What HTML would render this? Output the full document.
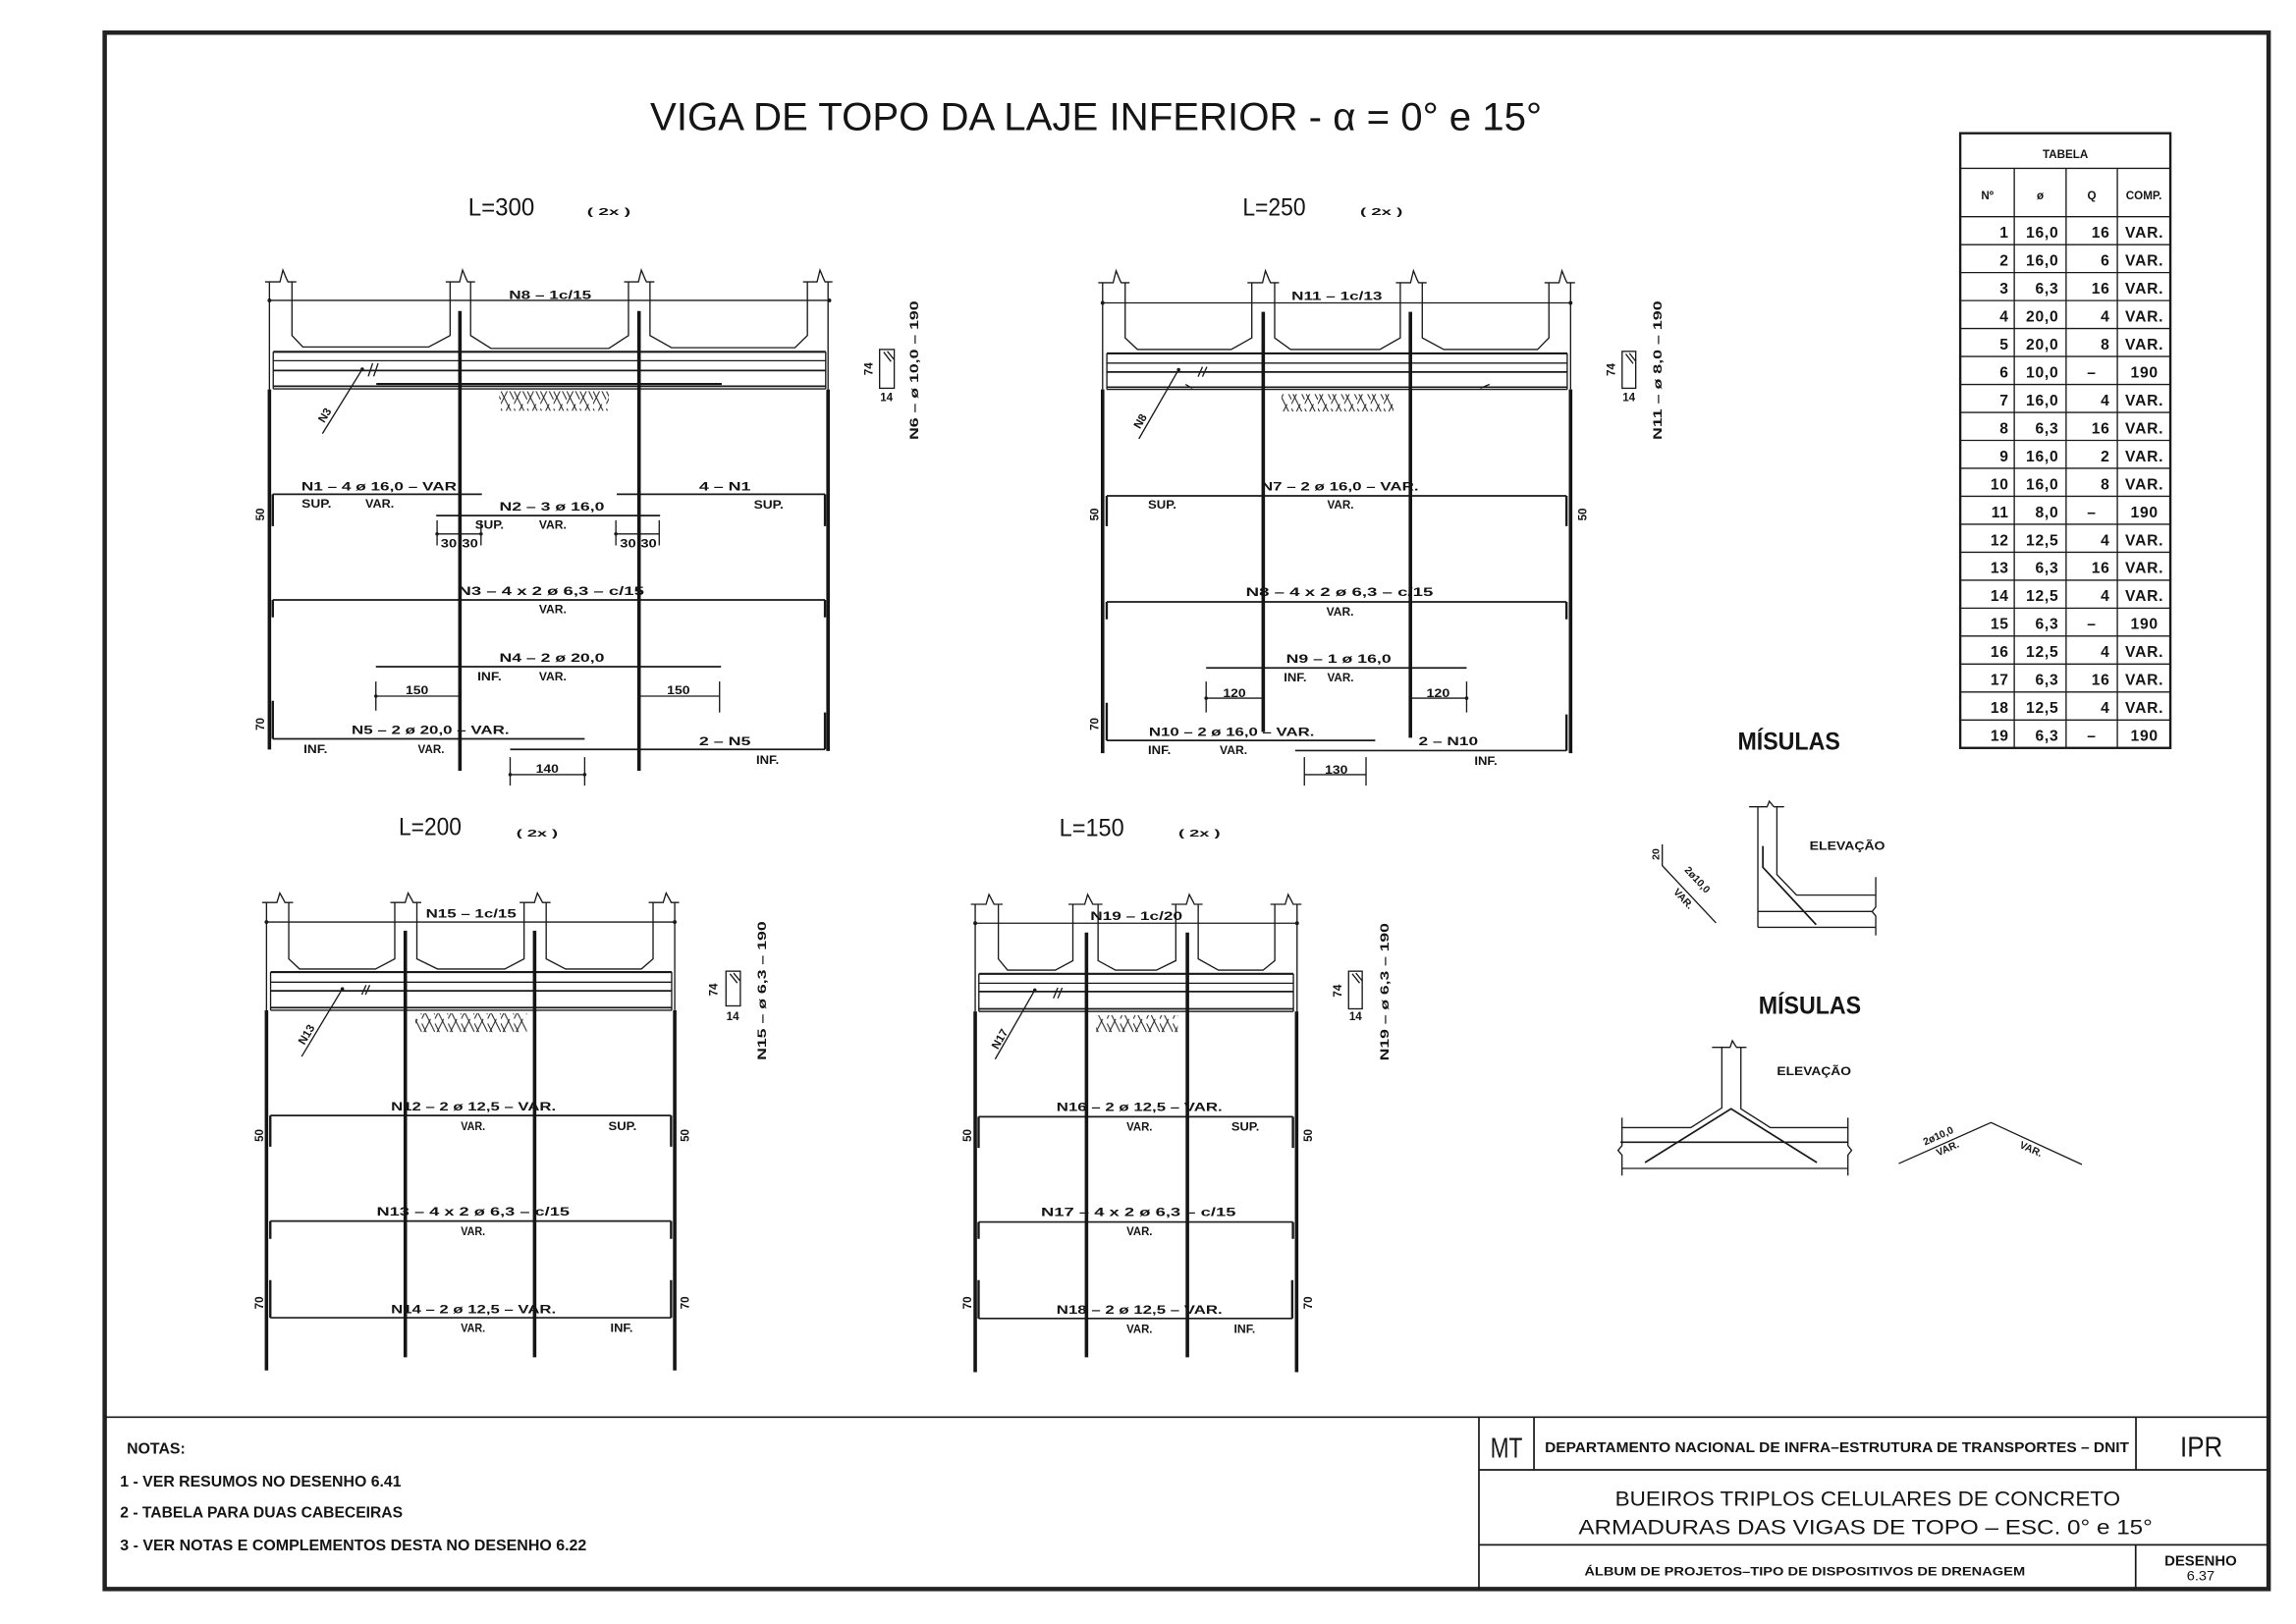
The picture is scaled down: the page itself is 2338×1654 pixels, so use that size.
<!DOCTYPE html>
<html><head><meta charset="utf-8"><style>
html,body{margin:0;padding:0;background:#fff;}
svg{display:block;}
.b{font-family:"Liberation Sans",sans-serif;font-weight:bold;font-size:7.8px;fill:#151515;}
.h{font-family:"Liberation Sans",sans-serif;font-size:16.5px;fill:#151515;}
.s{font-family:"Liberation Sans",sans-serif;font-weight:bold;font-size:7px;fill:#151515;}
.tb{font-family:"Liberation Sans",sans-serif;font-size:10.5px;font-weight:bold;letter-spacing:0.5px;fill:#151515;}
.th{font-family:"Liberation Sans",sans-serif;font-weight:bold;font-size:7.8px;fill:#151515;}
.n{font-family:"Liberation Sans",sans-serif;font-weight:bold;font-size:10.5px;fill:#151515;}
.r{font-family:"Liberation Sans",sans-serif;font-size:14px;fill:#151515;}
.L{fill:none;stroke:#1a1a1a;stroke-width:0.9;}
.M{fill:none;stroke:#1a1a1a;stroke-width:1.15;}
.K{fill:none;stroke:#151515;stroke-width:2.4;}
.H{fill:none;stroke:#1a1a1a;stroke-width:1.6;}
</style></head><body>
<svg width="2338" height="1654" viewBox="0 0 1568 1109.3" preserveAspectRatio="none" xmlns="http://www.w3.org/2000/svg">
<defs>
<pattern id="hp" patternUnits="userSpaceOnUse" width="9" height="12"><path d="M0,12 L6,0 M4.5,0 L9,9 M0,3 L4.5,12" stroke="#222" stroke-width="0.7" fill="none"/></pattern>
</defs>
<rect x="0" y="0" width="1568" height="1109.3" fill="#fff"/>

<!-- Border -->
<rect x="71.5" y="22.3" width="1477.8" height="1063.1" fill="none" stroke="#222" stroke-width="3"/>

<!-- Title -->
<text x="444" y="89" style="font-family:'Liberation Sans',sans-serif;font-size:27px;fill:#151515" textLength="609" lengthAdjust="spacingAndGlyphs">VIGA DE TOPO DA LAJE INFERIOR - α = 0° e 15°</text>

<!-- ================= DRAWING A (L=300) ================= -->
<text class="h" x="319.7" y="147.2" textLength="45.3" lengthAdjust="spacingAndGlyphs">L=300</text>
<text class="s" x="400.9" y="147" textLength="29.7" lengthAdjust="spacingAndGlyphs">( 2x )</text>
<g class="L">
<path d="M181,192.5 H191.2 L193.2,184.5 L195.7,190.5 L196.7,192.5 H202.4"/>
<path d="M304.4,192.5 H313.9 L315.9,184.5 L318.4,190.5 L319.4,192.5 H324.4"/>
<path d="M426.2,192.5 H436 L438,184.5 L440.5,190.5 L441.5,192.5 H446.9"/>
<path d="M548.4,192.5 H558 L560,184.5 L562.5,190.5 L563.5,192.5 H568.5"/>
<path d="M199.4,192.5 V229.2 L206.8,237 H292.8 L307.4,229.2 V192.5"/>
<path d="M321.4,192.5 V229.2 L335.3,238 H415.8 L429.2,229.2 V192.5"/>
<path d="M443.9,192.5 V229.2 L458.6,237.5 H542.9 L551.4,229.2 V192.5"/>
<path d="M184,192.5 V266 M565.5,192.5 V266"/>
<path d="M184,205.2 H566.4"/>
<path d="M186.6,246.4 H563.9 M186.6,265.6 H563.9 M186.6,240.3 V265.6 M563.9,240.3 V265.6"/>
<path d="M220.2,296.2 L247.4,252.2 M251.5,257.1 L254.5,248.2 M255.2,257.1 L258.2,248.2"/>
<path d="M298.5,364.7 H328.5 M298.5,355.4 V372.6 M328.5,355.4 V372.6 M420.6,364.7 H450.2 M420.6,355.4 V372.6 M450.2,355.4 V372.6"/>
<path d="M256.7,465.5 V485.4 M256.7,475.5 H314.1 M436.4,475.5 H491.4 M491.4,465.5 V486.7"/>
<path d="M348.4,517.2 V536.6 M399.3,517.2 V536.6 M348.4,529.1 H399.3"/>
<rect x="600.7" y="238.7" width="10" height="26.5"/>
<path d="M603.5,240.5 L608.5,247 M606,240 L610.5,245.5"/>
</g>
<g class="M">
<path d="M186.6,240.3 H563.9" stroke-width="1.4"/>
<path d="M186.6,253.1 H563.9 M186.6,263.8 H563.9"/>
<path d="M257,262.3 H492.9" stroke-width="1.4"/>
<path d="M297.9,352.2 H450.8 M256.7,455.4 H492.4"/>
<path d="M329.1,337.6 H186.3 M421.2,337.6 H563.4 M186.3,409.8 H563.4 M186.3,504.7 H399.3 M348.4,511.9 H563.4"/>
</g>
<g class="H">
<path d="M186.3,359.4 V337.6 M563.4,337.6 V359.4 M186.3,421.7 V409.8 M563.4,409.8 V421.7 M186.3,478.7 V504.7 M563.4,486.7 V511.9"/>
</g>
<g class="K">
<path d="M184,266 V512 M565.5,266 V513 M314.1,212.4 V526.5 M436.4,212.4 V526.5"/>
</g>
<rect x="340.9" y="267.2" width="74.9" height="13.4" fill="url(#hp)"/>
<g fill="#1a1a1a">
<circle cx="184" cy="205.2" r="1.3"/><circle cx="566.4" cy="205.2" r="1.3"/><circle cx="247.4" cy="252.2" r="1.2"/>
<circle cx="298.5" cy="364.7" r="1.2"/><circle cx="328.5" cy="364.7" r="1.2"/><circle cx="420.6" cy="364.7" r="1.2"/>
<circle cx="256.7" cy="475.5" r="1.2"/><circle cx="348.4" cy="529.1" r="1.2"/><circle cx="399.3" cy="529.1" r="1.2"/>
</g>
<text class="b" x="347.6" y="204.1" textLength="56.3" lengthAdjust="spacingAndGlyphs">N8 – 1c/15</text>
<text class="b" x="205.8" y="335" textLength="106.1" lengthAdjust="spacingAndGlyphs">N1 – 4 ø 16,0 – VAR</text>
<text class="b" x="206" y="346.6" textLength="20.3" lengthAdjust="spacingAndGlyphs">SUP.</text>
<text class="b" x="249.5" y="346.6" textLength="19.6" lengthAdjust="spacingAndGlyphs">VAR.</text>
<text class="b" x="477.4" y="335" textLength="35.3" lengthAdjust="spacingAndGlyphs">4 – N1</text>
<text class="b" x="514.8" y="347.4" textLength="20.3" lengthAdjust="spacingAndGlyphs">SUP.</text>
<text class="b" x="341" y="348.8" textLength="71.8" lengthAdjust="spacingAndGlyphs">N2 – 3 ø 16,0</text>
<text class="b" x="324.4" y="361.2" textLength="19.7" lengthAdjust="spacingAndGlyphs">SUP.</text>
<text class="b" x="368.1" y="361.2" textLength="18.8" lengthAdjust="spacingAndGlyphs">VAR.</text>
<text class="b" x="301" y="374" textLength="11" lengthAdjust="spacingAndGlyphs">30</text>
<text class="b" x="315.5" y="374" textLength="11" lengthAdjust="spacingAndGlyphs">30</text>
<text class="b" x="423.4" y="374" textLength="11" lengthAdjust="spacingAndGlyphs">30</text>
<text class="b" x="437.5" y="374" textLength="11" lengthAdjust="spacingAndGlyphs">30</text>
<text class="b" x="312.9" y="406.6" textLength="127" lengthAdjust="spacingAndGlyphs">N3 – 4 x 2 ø 6,3 – c/15</text>
<text class="b" x="368.1" y="419" textLength="18.8" lengthAdjust="spacingAndGlyphs">VAR.</text>
<text class="b" x="341" y="452.2" textLength="71.8" lengthAdjust="spacingAndGlyphs">N4 – 2 ø 20,0</text>
<text class="b" x="326" y="464.7" textLength="16.5" lengthAdjust="spacingAndGlyphs">INF.</text>
<text class="b" x="368.1" y="464.7" textLength="18.8" lengthAdjust="spacingAndGlyphs">VAR.</text>
<text class="b" x="277" y="474.2" textLength="15.6" lengthAdjust="spacingAndGlyphs">150</text>
<text class="b" x="455.5" y="474.2" textLength="15.7" lengthAdjust="spacingAndGlyphs">150</text>
<text class="b" x="240.1" y="501.3" textLength="107.7" lengthAdjust="spacingAndGlyphs">N5 – 2 ø 20,0 – VAR.</text>
<text class="b" x="207.3" y="514.5" textLength="16.3" lengthAdjust="spacingAndGlyphs">INF.</text>
<text class="b" x="285.4" y="514.5" textLength="18.1" lengthAdjust="spacingAndGlyphs">VAR.</text>
<text class="b" x="477.4" y="509.2" textLength="35.3" lengthAdjust="spacingAndGlyphs">2 – N5</text>
<text class="b" x="516.4" y="521.7" textLength="15.6" lengthAdjust="spacingAndGlyphs">INF.</text>
<text class="b" x="365.9" y="527.8" textLength="15.6" lengthAdjust="spacingAndGlyphs">140</text>
<text class="b" transform="translate(180.5,351.4) rotate(-90)" text-anchor="middle">50</text>
<text class="b" transform="translate(180.5,494.6) rotate(-90)" text-anchor="middle">70</text>
<text class="b" transform="translate(224,285) rotate(-58.5)" text-anchor="middle">N3</text>
<text class="b" transform="translate(596,252) rotate(-90)" text-anchor="middle">74</text>
<text class="b" x="605.4" y="274" text-anchor="middle">14</text>
<text class="b" transform="translate(627,253) rotate(-90)" text-anchor="middle" textLength="95" lengthAdjust="spacingAndGlyphs">N6 – ø 10,0 – 190</text>

<!-- ================= DRAWING B (L=250) ================= -->
<text class="h" x="848.6" y="147.2" textLength="43.1" lengthAdjust="spacingAndGlyphs">L=250</text>
<text class="s" x="928.9" y="147" textLength="29" lengthAdjust="spacingAndGlyphs">( 2x )</text>
<g class="L">
<path d="M750,193.1 H760.2 L762.2,185 L764.7,191.1 L765.7,193.1 H771.4"/>
<path d="M851.9,193.1 H862.2 L864.2,185 L866.7,191.1 L867.7,193.1 H873.5"/>
<path d="M953.3,193.1 H963.3 L965.3,185 L967.8,191.1 L968.8,193.1 H974.3"/>
<path d="M1054.8,193.1 H1064.7 L1066.7,185 L1069.2,191.1 L1070.2,193.1 H1075.6"/>
<path d="M768.4,193.1 V230.8 L776.8,238.7 H840.8 L854.9,230.8 V193.1"/>
<path d="M870.5,193.1 V230.8 L881.4,238.7 H942.3 L956.3,230.8 V193.1"/>
<path d="M971.3,193.1 V230.8 L986,238.7 H1050 L1057.8,230.8 V193.1"/>
<path d="M753,193.1 V266 M1072.6,193.1 V266"/>
<path d="M753,206.9 H1072.6"/>
<path d="M755.9,248 H1070.3 M755.9,266 H1070.3 M755.9,241.4 V266 M1070.3,241.4 V266"/>
<path d="M809.6,262.6 L814.3,265.2 M1011,265.2 L1017.2,262.6"/>
<path d="M777.8,299.7 L804.9,252.5 M818.2,257.3 L821.2,250.6 M821.2,257.3 L824.2,250.6"/>
<path d="M823.7,465.5 V486.7 M823.7,476.9 H862.7 M963.2,476.9 H1001.6 M1001.6,465.5 V486.7"/>
<path d="M890.8,517.2 V536.6 M932.9,517.2 V536.6 M890.8,529.1 H932.9"/>
<rect x="1107.8" y="240" width="9.3" height="25.2"/>
<path d="M1110.3,241.8 L1115.3,248.3 M1112.8,241.3 L1117.1,246.8"/>
</g>
<g class="M">
<path d="M755.9,241.4 H1070.3" stroke-width="1.4"/>
<path d="M755.9,254.1 H1070.3 M755.9,264.5 H1070.3"/>
<path d="M755.8,338.7 H1069.8 M755.8,411.1 H1069.8 M823.7,456.2 H1001.6 M755.8,505.8 H939.2 M884.5,512.7 H1069.8"/>
</g>
<g class="H">
<path d="M755.8,359.4 V338.7 M1069.8,338.7 V359.4 M755.8,423 V411.1 M1069.8,411.1 V423 M755.8,480 V505.8 M1069.8,488 V512.7"/>
</g>
<g class="K">
<path d="M753,266 V514.5 M1072.6,266 V514.5 M862.7,213 V500 M963.2,213 V503.9"/>
</g>
<rect x="875.2" y="269.2" width="76.5" height="11.9" fill="url(#hp)"/>
<g fill="#1a1a1a">
<circle cx="753" cy="206.9" r="1.3"/><circle cx="1072.6" cy="206.9" r="1.3"/><circle cx="804.9" cy="252.5" r="1.2"/>
<circle cx="823.7" cy="476.9" r="1.2"/><circle cx="1001.6" cy="476.9" r="1.2"/>
</g>
<text class="b" x="882" y="205" textLength="61.9" lengthAdjust="spacingAndGlyphs">N11 – 1c/13</text>
<text class="b" x="861.1" y="335" textLength="107.7" lengthAdjust="spacingAndGlyphs">N7 – 2 ø 16,0 – VAR.</text>
<text class="b" x="784" y="347.5" textLength="19.4" lengthAdjust="spacingAndGlyphs">SUP.</text>
<text class="b" x="906.4" y="347.5" textLength="18.1" lengthAdjust="spacingAndGlyphs">VAR.</text>
<text class="b" x="850.8" y="407.1" textLength="128" lengthAdjust="spacingAndGlyphs">N8 – 4 x 2 ø 6,3 – c/15</text>
<text class="b" x="905.8" y="420.4" textLength="18.7" lengthAdjust="spacingAndGlyphs">VAR.</text>
<text class="b" x="878.3" y="452.7" textLength="71.8" lengthAdjust="spacingAndGlyphs">N9 – 1 ø 16,0</text>
<text class="b" x="876.7" y="465.5" textLength="15.6" lengthAdjust="spacingAndGlyphs">INF.</text>
<text class="b" x="906.4" y="465.5" textLength="18.1" lengthAdjust="spacingAndGlyphs">VAR.</text>
<text class="b" x="835.2" y="476.1" textLength="15.6" lengthAdjust="spacingAndGlyphs">120</text>
<text class="b" x="974.1" y="476.1" textLength="16" lengthAdjust="spacingAndGlyphs">120</text>
<text class="b" x="784.6" y="502.6" textLength="113" lengthAdjust="spacingAndGlyphs">N10 – 2 ø 16,0 – VAR.</text>
<text class="b" x="784" y="515.1" textLength="15.6" lengthAdjust="spacingAndGlyphs">INF.</text>
<text class="b" x="833" y="515.1" textLength="18.8" lengthAdjust="spacingAndGlyphs">VAR.</text>
<text class="b" x="968.8" y="509.2" textLength="40.6" lengthAdjust="spacingAndGlyphs">2 – N10</text>
<text class="b" x="1006.9" y="522.5" textLength="15.6" lengthAdjust="spacingAndGlyphs">INF.</text>
<text class="b" x="904.8" y="528.6" textLength="15.6" lengthAdjust="spacingAndGlyphs">130</text>
<text class="b" transform="translate(750,351.4) rotate(-90)" text-anchor="middle">50</text>
<text class="b" transform="translate(1083.4,351.4) rotate(-90)" text-anchor="middle">50</text>
<text class="b" transform="translate(750,494.6) rotate(-90)" text-anchor="middle">70</text>
<text class="b" transform="translate(781,289) rotate(-60)" text-anchor="middle">N8</text>
<text class="b" transform="translate(1103,252.5) rotate(-90)" text-anchor="middle">74</text>
<text class="b" x="1112.4" y="274" text-anchor="middle">14</text>
<text class="b" transform="translate(1134.8,253) rotate(-90)" text-anchor="middle" textLength="95" lengthAdjust="spacingAndGlyphs">N11 – ø 8,0 – 190</text>

<!-- ================= DRAWING C (L=200) ================= -->
<text class="h" x="272.3" y="570.3" textLength="42.9" lengthAdjust="spacingAndGlyphs">L=200</text>
<text class="s" x="352.6" y="571.5" textLength="28.4" lengthAdjust="spacingAndGlyphs">( 2x )</text>
<g class="L">
<path d="M179,616.5 H189.1 L191.1,610 L193.6,614.5 L194.6,616.5 H200.2"/>
<path d="M266.6,616.5 H276.7 L278.7,610 L281.2,614.5 L282.2,616.5 H287.7"/>
<path d="M354.9,616.5 H365 L367,610 L369.5,614.5 L370.5,616.5 H376"/>
<path d="M443,616.5 H452.9 L454.9,610 L457.4,614.5 L458.4,616.5 H463.8"/>
<path d="M197.2,616.5 V655 L204.6,661.9 H256.4 L269.6,655 V616.5"/>
<path d="M284.7,616.5 V655 L298.8,661.9 H344.7 L357.9,655 V616.5"/>
<path d="M373,616.5 V655 L386.3,661.9 H438 L446,655 V616.5"/>
<path d="M182,616.5 V690.1 M460.8,616.5 V690.1"/>
<path d="M182,629.8 H460.8"/>
<path d="M184.8,670.9 H458.7 M184.8,690.1 H458.7 M184.8,664 V690.1 M458.7,664 V690.1"/>
<path d="M206,721.7 L233.8,675.5 M247.1,679.4 L250,672.9 M249.6,679.4 L252.5,672.9"/>
<rect x="495.8" y="663.4" width="9.8" height="23.7"/>
<path d="M498.5,665.2 L503.5,671.5 M501,664.7 L505.4,670"/>
</g>
<g class="M">
<path d="M184.8,664 H458.7" stroke-width="1.4"/>
<path d="M184.8,676.8 H458.7 M184.8,688.3 H458.7"/>
<path d="M184.6,762 H458.3 M184.6,834.1 H458.3 M184.6,900.1 H458.3"/>
</g>
<g class="H">
<path d="M184.6,783.3 V762 M458.3,762 V783.3 M184.6,846.2 V834.1 M458.3,834.1 V846.2 M184.6,874.4 V900.1 M458.3,874.4 V900.1"/>
</g>
<g class="K">
<path d="M182,690.1 V936.1 M460.8,690.1 V936.1 M276.8,635.7 V927.1 M365.1,635.7 V927.1"/>
</g>
<rect x="283.7" y="692.2" width="76.1" height="12.8" fill="url(#hp)"/>
<g fill="#1a1a1a">
<circle cx="182" cy="629.8" r="1.3"/><circle cx="460.8" cy="629.8" r="1.3"/><circle cx="233.8" cy="675.5" r="1.2"/>
</g>
<text class="b" x="290.8" y="626.7" textLength="61.8" lengthAdjust="spacingAndGlyphs">N15 – 1c/15</text>
<text class="b" x="267" y="758.4" textLength="112.7" lengthAdjust="spacingAndGlyphs">N12 – 2 ø 12,5 – VAR.</text>
<text class="b" x="314.7" y="771.8" textLength="16.7" lengthAdjust="spacingAndGlyphs">VAR.</text>
<text class="b" x="415.5" y="771.8" textLength="19.3" lengthAdjust="spacingAndGlyphs">SUP.</text>
<text class="b" x="257.2" y="830.3" textLength="131.8" lengthAdjust="spacingAndGlyphs">N13 – 4 x 2 ø 6,3 – c/15</text>
<text class="b" x="314.7" y="843.6" textLength="16.7" lengthAdjust="spacingAndGlyphs">VAR.</text>
<text class="b" x="267" y="897" textLength="112.7" lengthAdjust="spacingAndGlyphs">N14 – 2 ø 12,5 – VAR.</text>
<text class="b" x="314.7" y="909.9" textLength="16.7" lengthAdjust="spacingAndGlyphs">VAR.</text>
<text class="b" x="416.8" y="909.9" textLength="15.4" lengthAdjust="spacingAndGlyphs">INF.</text>
<text class="b" transform="translate(179.6,775.6) rotate(-90)" text-anchor="middle">50</text>
<text class="b" transform="translate(470.5,775.6) rotate(-90)" text-anchor="middle">50</text>
<text class="b" transform="translate(179.6,889.9) rotate(-90)" text-anchor="middle">70</text>
<text class="b" transform="translate(470.5,889.9) rotate(-90)" text-anchor="middle">70</text>
<text class="b" transform="translate(211.5,708) rotate(-59)" text-anchor="middle">N13</text>
<text class="b" transform="translate(490,676) rotate(-90)" text-anchor="middle">74</text>
<text class="b" x="500.4" y="697" text-anchor="middle">14</text>
<text class="b" transform="translate(523.2,676.8) rotate(-90)" text-anchor="middle" textLength="95" lengthAdjust="spacingAndGlyphs">N15 – ø 6,3 – 190</text>

<!-- ================= DRAWING D (L=150) ================= -->
<text class="h" x="723.4" y="571" textLength="44.3" lengthAdjust="spacingAndGlyphs">L=150</text>
<text class="s" x="804.8" y="571.5" textLength="28.6" lengthAdjust="spacingAndGlyphs">( 2x )</text>
<g class="L">
<path d="M663,617.7 H673.4 L675.4,611 L677.9,615.7 L678.9,617.7 H684.8"/>
<path d="M729.7,617.7 H740.8 L742.8,611 L745.3,615.7 L746.3,617.7 H752.9"/>
<path d="M800,617.7 H810.2 L812.2,611 L814.7,615.7 L815.7,617.7 H821.3"/>
<path d="M867.6,617.7 H877.7 L879.7,611 L882.2,615.7 L883.2,617.7 H888.8"/>
<path d="M681.8,617.7 V655 L688.1,662.7 H720.7 L732.7,656.2 V617.7"/>
<path d="M749.9,617.7 V656.2 L761.8,662.7 H789.7 L803,656.2 V617.7"/>
<path d="M818.3,617.7 V655 L832.1,662.7 H862.6 L870.6,656.2 V617.7"/>
<path d="M666,617.7 V690.9 M885.8,617.7 V690.9"/>
<path d="M666,630.6 H885.8"/>
<path d="M668.5,671.6 H883.3 M668.5,690.9 H883.3 M668.5,665.2 V690.9 M883.3,665.2 V690.9"/>
<path d="M679.6,723.5 L706.7,676.3 M719.4,681.9 L722.4,674.7 M722.4,681.9 L725.4,674.7"/>
<rect x="921" y="663.4" width="9.3" height="25.7"/>
<path d="M923.5,665.2 L928.5,671.5 M926,664.7 L930.3,670"/>
</g>
<g class="M">
<path d="M668.5,665.2 H883.3" stroke-width="1.4"/>
<path d="M668.5,677.3 H883.3 M668.5,689.1 H883.3"/>
<path d="M668.3,762.8 H883 M668.3,834.7 H883 M668.3,900.6 H882.5"/>
</g>
<g class="H">
<path d="M668.3,784.1 V762.8 M883,762.8 V784.1 M668.3,846.2 V834.7 M883,834.7 V846.2 M668.3,874.4 V900.6 M882.5,874.4 V900.6"/>
</g>
<g class="K">
<path d="M666,690.9 V937.3 M885.5,690.9 V937.3 M742,637 V927.1 M810.9,637 V927.1"/>
</g>
<rect x="748.6" y="693.5" width="55.7" height="11.5" fill="url(#hp)"/>
<g fill="#1a1a1a">
<circle cx="666" cy="630.6" r="1.3"/><circle cx="885.8" cy="630.6" r="1.3"/><circle cx="706.7" cy="676.3" r="1.2"/>
</g>
<text class="b" x="744.6" y="628.5" textLength="62.9" lengthAdjust="spacingAndGlyphs">N19 – 1c/20</text>
<text class="b" x="721.5" y="758.9" textLength="113.3" lengthAdjust="spacingAndGlyphs">N16 – 2 ø 12,5 – VAR.</text>
<text class="b" x="769.3" y="772.3" textLength="17.7" lengthAdjust="spacingAndGlyphs">VAR.</text>
<text class="b" x="840.9" y="772.3" textLength="19.1" lengthAdjust="spacingAndGlyphs">SUP.</text>
<text class="b" x="710.9" y="830.8" textLength="133.1" lengthAdjust="spacingAndGlyphs">N17 – 4 x 2 ø 6,3 – c/15</text>
<text class="b" x="769.3" y="843.6" textLength="17.7" lengthAdjust="spacingAndGlyphs">VAR.</text>
<text class="b" x="721.5" y="897.5" textLength="113.3" lengthAdjust="spacingAndGlyphs">N18 – 2 ø 12,5 – VAR.</text>
<text class="b" x="769.3" y="910.4" textLength="17.7" lengthAdjust="spacingAndGlyphs">VAR.</text>
<text class="b" x="842.7" y="910.4" textLength="14.6" lengthAdjust="spacingAndGlyphs">INF.</text>
<text class="b" transform="translate(663.3,775.6) rotate(-90)" text-anchor="middle">50</text>
<text class="b" transform="translate(895.9,775.6) rotate(-90)" text-anchor="middle">50</text>
<text class="b" transform="translate(663.3,889.9) rotate(-90)" text-anchor="middle">70</text>
<text class="b" transform="translate(895.9,889.9) rotate(-90)" text-anchor="middle">70</text>
<text class="b" transform="translate(685,711) rotate(-60)" text-anchor="middle">N17</text>
<text class="b" transform="translate(916,676.8) rotate(-90)" text-anchor="middle">74</text>
<text class="b" x="925.7" y="697" text-anchor="middle">14</text>
<text class="b" transform="translate(948.4,677.5) rotate(-90)" text-anchor="middle" textLength="94" lengthAdjust="spacingAndGlyphs">N19 – ø 6,3 – 190</text>

<!-- ================= TABLE ================= -->
<g class="L" stroke-width="1">
<rect x="1338.7" y="91" width="143.5" height="419.9" stroke-width="1.6"/>
<path d="M1338.7,115 H1482.2 M1338.7,148 H1482.2"/>
<path d="M1375.6,115 V510.9 M1411,115 V510.9 M1446,115 V510.9"/>
<path d="M1338.7,167.1 H1482.2 M1338.7,186.2 H1482.2 M1338.7,205.3 H1482.2 M1338.7,224.4 H1482.2 M1338.7,243.5 H1482.2 M1338.7,262.6 H1482.2 M1338.7,281.7 H1482.2 M1338.7,300.8 H1482.2 M1338.7,319.9 H1482.2 M1338.7,339 H1482.2 M1338.7,358.1 H1482.2 M1338.7,377.2 H1482.2 M1338.7,396.3 H1482.2 M1338.7,415.4 H1482.2 M1338.7,434.5 H1482.2 M1338.7,453.6 H1482.2 M1338.7,472.7 H1482.2 M1338.7,491.8 H1482.2"/>
</g>
<text class="th" x="1410.5" y="108" text-anchor="middle">TABELA</text>
<text class="th" x="1357.2" y="136" text-anchor="middle">Nº</text>
<text class="th" x="1393.3" y="136" text-anchor="middle">ø</text>
<text class="th" x="1428.5" y="136" text-anchor="middle">Q</text>
<text class="th" x="1464.1" y="136" text-anchor="middle" font-size="7">COMP.</text>
<g class="tb">
<text x="1372" y="162.3" text-anchor="end">1</text><text x="1406" y="162.3" text-anchor="end">16,0</text><text x="1441" y="162.3" text-anchor="end">16</text><text x="1464.5" y="162.3" text-anchor="middle">VAR.</text>
<text x="1372" y="181.4" text-anchor="end">2</text><text x="1406" y="181.4" text-anchor="end">16,0</text><text x="1441" y="181.4" text-anchor="end">6</text><text x="1464.5" y="181.4" text-anchor="middle">VAR.</text>
<text x="1372" y="200.5" text-anchor="end">3</text><text x="1406" y="200.5" text-anchor="end">6,3</text><text x="1441" y="200.5" text-anchor="end">16</text><text x="1464.5" y="200.5" text-anchor="middle">VAR.</text>
<text x="1372" y="219.6" text-anchor="end">4</text><text x="1406" y="219.6" text-anchor="end">20,0</text><text x="1441" y="219.6" text-anchor="end">4</text><text x="1464.5" y="219.6" text-anchor="middle">VAR.</text>
<text x="1372" y="238.7" text-anchor="end">5</text><text x="1406" y="238.7" text-anchor="end">20,0</text><text x="1441" y="238.7" text-anchor="end">8</text><text x="1464.5" y="238.7" text-anchor="middle">VAR.</text>
<text x="1372" y="257.8" text-anchor="end">6</text><text x="1406" y="257.8" text-anchor="end">10,0</text><text x="1428.5" y="257.8" text-anchor="middle">–</text><text x="1464.5" y="257.8" text-anchor="middle">190</text>
<text x="1372" y="276.9" text-anchor="end">7</text><text x="1406" y="276.9" text-anchor="end">16,0</text><text x="1441" y="276.9" text-anchor="end">4</text><text x="1464.5" y="276.9" text-anchor="middle">VAR.</text>
<text x="1372" y="296" text-anchor="end">8</text><text x="1406" y="296" text-anchor="end">6,3</text><text x="1441" y="296" text-anchor="end">16</text><text x="1464.5" y="296" text-anchor="middle">VAR.</text>
<text x="1372" y="315.1" text-anchor="end">9</text><text x="1406" y="315.1" text-anchor="end">16,0</text><text x="1441" y="315.1" text-anchor="end">2</text><text x="1464.5" y="315.1" text-anchor="middle">VAR.</text>
<text x="1372" y="334.2" text-anchor="end">10</text><text x="1406" y="334.2" text-anchor="end">16,0</text><text x="1441" y="334.2" text-anchor="end">8</text><text x="1464.5" y="334.2" text-anchor="middle">VAR.</text>
<text x="1372" y="353.3" text-anchor="end">11</text><text x="1406" y="353.3" text-anchor="end">8,0</text><text x="1428.5" y="353.3" text-anchor="middle">–</text><text x="1464.5" y="353.3" text-anchor="middle">190</text>
<text x="1372" y="372.4" text-anchor="end">12</text><text x="1406" y="372.4" text-anchor="end">12,5</text><text x="1441" y="372.4" text-anchor="end">4</text><text x="1464.5" y="372.4" text-anchor="middle">VAR.</text>
<text x="1372" y="391.5" text-anchor="end">13</text><text x="1406" y="391.5" text-anchor="end">6,3</text><text x="1441" y="391.5" text-anchor="end">16</text><text x="1464.5" y="391.5" text-anchor="middle">VAR.</text>
<text x="1372" y="410.6" text-anchor="end">14</text><text x="1406" y="410.6" text-anchor="end">12,5</text><text x="1441" y="410.6" text-anchor="end">4</text><text x="1464.5" y="410.6" text-anchor="middle">VAR.</text>
<text x="1372" y="429.7" text-anchor="end">15</text><text x="1406" y="429.7" text-anchor="end">6,3</text><text x="1428.5" y="429.7" text-anchor="middle">–</text><text x="1464.5" y="429.7" text-anchor="middle">190</text>
<text x="1372" y="448.8" text-anchor="end">16</text><text x="1406" y="448.8" text-anchor="end">12,5</text><text x="1441" y="448.8" text-anchor="end">4</text><text x="1464.5" y="448.8" text-anchor="middle">VAR.</text>
<text x="1372" y="467.9" text-anchor="end">17</text><text x="1406" y="467.9" text-anchor="end">6,3</text><text x="1441" y="467.9" text-anchor="end">16</text><text x="1464.5" y="467.9" text-anchor="middle">VAR.</text>
<text x="1372" y="487" text-anchor="end">18</text><text x="1406" y="487" text-anchor="end">12,5</text><text x="1441" y="487" text-anchor="end">4</text><text x="1464.5" y="487" text-anchor="middle">VAR.</text>
<text x="1372" y="506.1" text-anchor="end">19</text><text x="1406" y="506.1" text-anchor="end">6,3</text><text x="1428.5" y="506.1" text-anchor="middle">–</text><text x="1464.5" y="506.1" text-anchor="middle">190</text>
</g>

<!-- ================= MISULAS ================= -->
<text x="1186.7" y="512" style="font-family:'Liberation Sans',sans-serif;font-size:17px;font-weight:bold;fill:#151515" textLength="70" lengthAdjust="spacingAndGlyphs">MÍSULAS</text>
<g class="L" stroke-width="1">
<path d="M1194.5,551.1 H1206.8 L1208.3,547.3 L1210.5,550 L1211.5,551.1 H1218.4"/>
<path d="M1200.5,551.1 V633.4"/>
<path d="M1213.5,551.1 V597.4 L1226.9,611.4 H1281"/>
<path d="M1200.5,622.6 H1279"/>
<path d="M1200.5,633.4 H1281"/>
<path d="M1281,599.1 V619.5 L1278.5,622.6 L1281,625.7 V639"/>
<path d="M1135.2,576.8 V591.3 L1171.9,630.4"/>
</g>
<path d="M1203.9,577.9 V592.4 L1240.3,631.6" class="M" stroke-width="1.3"/>
<text class="b" x="1235.8" y="580.6" textLength="51.5" lengthAdjust="spacingAndGlyphs">ELEVAÇÃO</text>
<text class="s" transform="translate(1133,583.5) rotate(-90)" text-anchor="middle">20</text>
<text class="s" transform="translate(1157.5,602.5) rotate(47)" text-anchor="middle">2ø10,0</text>
<text class="s" transform="translate(1148,615.5) rotate(47)" text-anchor="middle">VAR.</text>

<text x="1201" y="692.4" style="font-family:'Liberation Sans',sans-serif;font-size:17px;font-weight:bold;fill:#151515" textLength="70" lengthAdjust="spacingAndGlyphs">MÍSULAS</text>
<g class="L" stroke-width="1">
<path d="M1169.2,715.4 H1181.5 L1183.1,710.9 L1185,714 L1186,715.4 H1192.7"/>
<path d="M1175.9,715.4 V756.8 L1154.7,770.2 H1107.7"/>
<path d="M1188.9,715.4 V757.4 L1209,770.2 H1262"/>
<path d="M1107.7,798.1 H1262"/>
<path d="M1107.7,763.5 V782.5 L1105,785.8 L1107.7,789 V803"/>
<path d="M1262,763.5 V782.5 L1264.5,785.8 L1262,789 V803"/>
<path d="M1296.7,794.8 L1359.7,766.8 L1421.8,795.4"/>
</g>
<path d="M1106.6,780.2 H1262" class="M" stroke-width="1.5"/>
<path d="M1123.4,794.1 L1182.2,757.4 L1240.8,794.1" class="M" stroke-width="1.3"/>
<text class="b" x="1213.5" y="734.4" textLength="50.7" lengthAdjust="spacingAndGlyphs">ELEVAÇÃO</text>
<text class="s" transform="translate(1324.6,778) rotate(-24)" text-anchor="middle">2ø10,0</text>
<text class="s" transform="translate(1331,786.5) rotate(-24)" text-anchor="middle">VAR.</text>
<text class="s" transform="translate(1386.1,787) rotate(24)" text-anchor="middle">VAR.</text>

<!-- ================= NOTES & TITLE BLOCK ================= -->
<g class="M" stroke-width="1.3">
<path d="M71.5,968 H1549.3"/>
<path d="M1010,968 V1085.4"/>
<path d="M1047.6,968 V1004 M1458.7,968 V1004"/>
<path d="M1010,1004 H1549.3 M1010,1055.2 H1549.3"/>
<path d="M1458.5,1055.2 V1085.4"/>
</g>
<text class="n" x="86.6" y="993" textLength="40" lengthAdjust="spacingAndGlyphs">NOTAS:</text>
<text class="n" x="82" y="1015.4" textLength="192" lengthAdjust="spacingAndGlyphs">1 - VER RESUMOS NO DESENHO 6.41</text>
<text class="n" x="82" y="1036.7" textLength="193" lengthAdjust="spacingAndGlyphs">2 - TABELA PARA DUAS CABECEIRAS</text>
<text class="n" x="82" y="1059" textLength="318.6" lengthAdjust="spacingAndGlyphs">3 - VER NOTAS E COMPLEMENTOS DESTA NO DESENHO 6.22</text>

<text x="1028.8" y="995.5" text-anchor="middle" style="font-family:'Liberation Sans',sans-serif;font-size:19px;fill:#151515" textLength="22" lengthAdjust="spacingAndGlyphs">MT</text>
<text x="1055" y="992" style="font-family:'Liberation Sans',sans-serif;font-weight:bold;font-size:10px;fill:#151515" textLength="399" lengthAdjust="spacingAndGlyphs">DEPARTAMENTO NACIONAL DE INFRA–ESTRUTURA DE TRANSPORTES – DNIT</text>
<text x="1488.9" y="995" style="font-family:'Liberation Sans',sans-serif;font-size:19px;fill:#151515" textLength="29" lengthAdjust="spacingAndGlyphs">IPR</text>
<text class="r" x="1103" y="1028.4" textLength="345" lengthAdjust="spacingAndGlyphs">BUEIROS TRIPLOS CELULARES DE CONCRETO</text>
<text class="r" x="1078" y="1047.8" textLength="392" lengthAdjust="spacingAndGlyphs">ARMADURAS DAS VIGAS DE TOPO – ESC. 0° e 15°</text>
<text x="1082" y="1076" style="font-family:'Liberation Sans',sans-serif;font-weight:bold;font-size:8px;fill:#151515" textLength="301" lengthAdjust="spacingAndGlyphs">ÁLBUM DE PROJETOS–TIPO DE DISPOSITIVOS DE DRENAGEM</text>
<text x="1478.2" y="1069.3" style="font-family:'Liberation Sans',sans-serif;font-weight:bold;font-size:10px;fill:#151515" textLength="49.4" lengthAdjust="spacingAndGlyphs">DESENHO</text>
<text x="1493.4" y="1079.3" style="font-family:'Liberation Sans',sans-serif;font-size:9px;fill:#151515" textLength="19" lengthAdjust="spacingAndGlyphs">6.37</text>
</svg>
</body></html>
